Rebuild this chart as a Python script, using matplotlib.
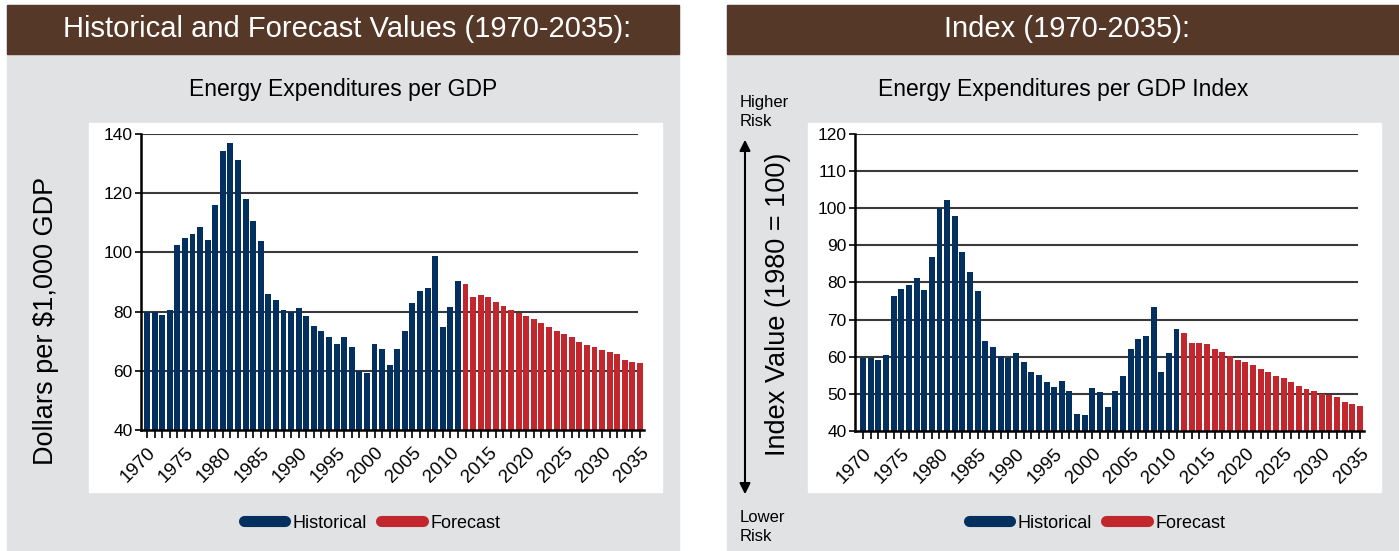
import matplotlib.pyplot as plt
from matplotlib.patches import Rectangle, FancyArrowPatch
from matplotlib.lines import Line2D

# Data
years = list(range(1970, 2036))
hist_years = years[:42]   # 1970-2011
fcst_years = years[42:]   # 2012-2035

spend_hist = [80, 80, 79, 80.7, 102.4, 104.8, 106.1, 108.5, 104.1, 116,
              134.2, 137, 131.2, 118, 110.5, 103.8, 85.8, 83.8, 80.4, 80,
              81.3, 78.4, 75, 73.6, 71.3, 69.2, 71.3, 67.9, 60.1, 59.4,
              68.9, 67.5, 62.1, 67.5, 73.3, 82.8, 86.8, 87.9, 98.7, 74.7,
              81.4, 90.2]
spend_fcst = [89.2, 85.1, 85.5, 84.8, 83.1, 81.8, 80.7, 79.4, 78.4, 77.4,
              76, 74.7, 73.3, 72.3, 71.3, 69.6, 68.6, 67.9, 66.9, 66.2,
              65.8, 63.8, 63.1, 62.8]

index_hist = [59.6, 59.6, 59.1, 60.4, 76.3, 78.2, 79.3, 81.2, 77.9, 86.8,
              100, 102.2, 97.9, 88.2, 82.8, 77.7, 64.2, 62.6, 60.1, 59.6,
              60.9, 58.5, 55.8, 55, 53.1, 51.8, 53.4, 50.7, 44.5, 44.2,
              51.5, 50.4, 46.4, 50.8, 54.7, 62, 64.7, 65.5, 73.5, 55.8,
              60.9, 67.4]
index_fcst = [66.5, 63.6, 63.8, 63.3, 62, 61.2, 60.1, 59, 58.5, 57.7,
              56.6, 55.8, 54.7, 54.2, 53.1, 52, 51.2, 50.7, 49.9, 49.6,
              49.1, 47.7, 47.2, 46.6]

W, H = 1399, 551
BLUE = '#03305f'
RED = '#c1272d'
BROWN = '#553828'
GRAY = '#e1e2e4'
NARROW = ['Liberation Sans Narrow', 'Liberation Sans', 'DejaVu Sans']
PLAIN = ['Liberation Sans', 'DejaVu Sans']


def box(x0, y0, x1, y1):
    # pixel box (top-left origin) -> figure fraction rect
    return [x0 / W, 1 - y1 / H, (x1 - x0) / W, (y1 - y0) / H]


def add_rect(fig, x0, y0, x1, y1, color):
    fig.add_artist(Rectangle((x0 / W, 1 - y1 / H), (x1 - x0) / W, (y1 - y0) / H,
                             transform=fig.transFigure, color=color, zorder=0))


def draw_panel(fig, left, right, header, subtitle, white, axbox, xlim, ylim,
               yticks, hist, fcst, ylabel, ylabel_pos, legend_x):
    add_rect(fig, left, 5, right, H, GRAY)
    add_rect(fig, left, 5, right, 54, BROWN)
    add_rect(fig, *white, 'white')
    cx = (left + right) / 2 + 4
    fig.text(cx / W, 1 - 29 / H, header, color='white', fontsize=21,
             family=NARROW, ha='center', va='center')
    fig.text((cx - 4) / W, 1 - 89 / H, subtitle, color='black', fontsize=16.5,
             family=NARROW, ha='center', va='center')

    ax = fig.add_axes(box(*axbox))
    ax.set_facecolor('none')
    ax.bar(hist_years, hist, width=0.78, color=BLUE, zorder=2)
    ax.bar(fcst_years, fcst, width=0.78, color=RED, zorder=2)
    ax.set_xlim(*xlim)
    ax.set_ylim(*ylim)
    ax.set_yticks(yticks)
    for v in yticks[1:]:
        ax.axhline(v, xmax=0.986, color='#3a3a3a', lw=1.5, zorder=1)
    for s in ['top', 'right']:
        ax.spines[s].set_visible(False)
    for s in ['left', 'bottom']:
        ax.spines[s].set_linewidth(1.8)
        ax.spines[s].set_color('black')
    ax.set_xticks(range(1970, 2036, 5))
    ax.set_xticks(years, minor=True)
    ax.tick_params(axis='x', which='both', direction='out', length=6, width=1.2,
                   pad=4)
    ax.tick_params(axis='y', direction='out', length=4, width=1.2, pad=2)
    for lab in ax.get_xticklabels():
        lab.set_rotation(45)
        lab.set_ha('right')
        lab.set_va('top')
        lab.set_rotation_mode('anchor')
        lab.set_fontsize(13.5)
        lab.set_family(PLAIN)
    for lab in ax.get_yticklabels():
        lab.set_fontsize(12.5)
        lab.set_family(PLAIN)

    fig.text(ylabel_pos[0] / W, 1 - ylabel_pos[1] / H, ylabel,
             rotation=90, fontsize=19.5, family=PLAIN, ha='center', va='center')

    handles = [Line2D([], [], color=BLUE, lw=8, solid_capstyle='round'),
               Line2D([], [], color=RED, lw=8, solid_capstyle='round')]
    fig.legend(handles, ['Historical', 'Forecast'], loc='center', ncol=2,
               bbox_to_anchor=(legend_x / W, 1 - 523 / H), frameon=False,
               prop={'family': NARROW, 'size': 13}, handlelength=2.3,
               handletextpad=0.4, columnspacing=0.8)
    return ax


fig = plt.figure(figsize=(W / 100, H / 100), dpi=100)
fig.patch.set_facecolor('white')

draw_panel(fig, 7, 679, 'Historical and Forecast Values (1970-2035):',
           'Energy Expenditures per GDP', (89, 123, 662, 492),
           (141, 134, 644, 430), (1969.21, 2035.53), (40, 140),
           [40, 60, 80, 100, 120, 140], spend_hist, spend_fcst,
           'Dollars per $1,000 GDP', (46, 321), 372)

draw_panel(fig, 727, W, 'Index (1970-2035):',
           'Energy Expenditures per GDP Index', (808, 123, 1381, 492),
           (855, 134, 1364, 431), (1968.95, 2035.52), (40, 120),
           [40, 50, 60, 70, 80, 90, 100, 110, 120], index_hist, index_fcst,
           'Index Value (1980 = 100)', (778, 304), 1097)

# risk arrow on the index panel
fig.add_artist(FancyArrowPatch((745 / W, 1 - 137 / H), (745 / W, 1 - 497 / H),
                               transform=fig.transFigure, arrowstyle='<|-|>',
                               mutation_scale=16, color='black', lw=1.5))
fig.text(740 / W, 1 - 112 / H, 'Higher\nRisk', fontsize=12, family=NARROW,
         ha='left', va='center', linespacing=1.3)
fig.text(740 / W, 1 - 527 / H, 'Lower\nRisk', fontsize=12, family=NARROW,
         ha='left', va='center', linespacing=1.4)

fig.savefig('out.png', dpi=100)
